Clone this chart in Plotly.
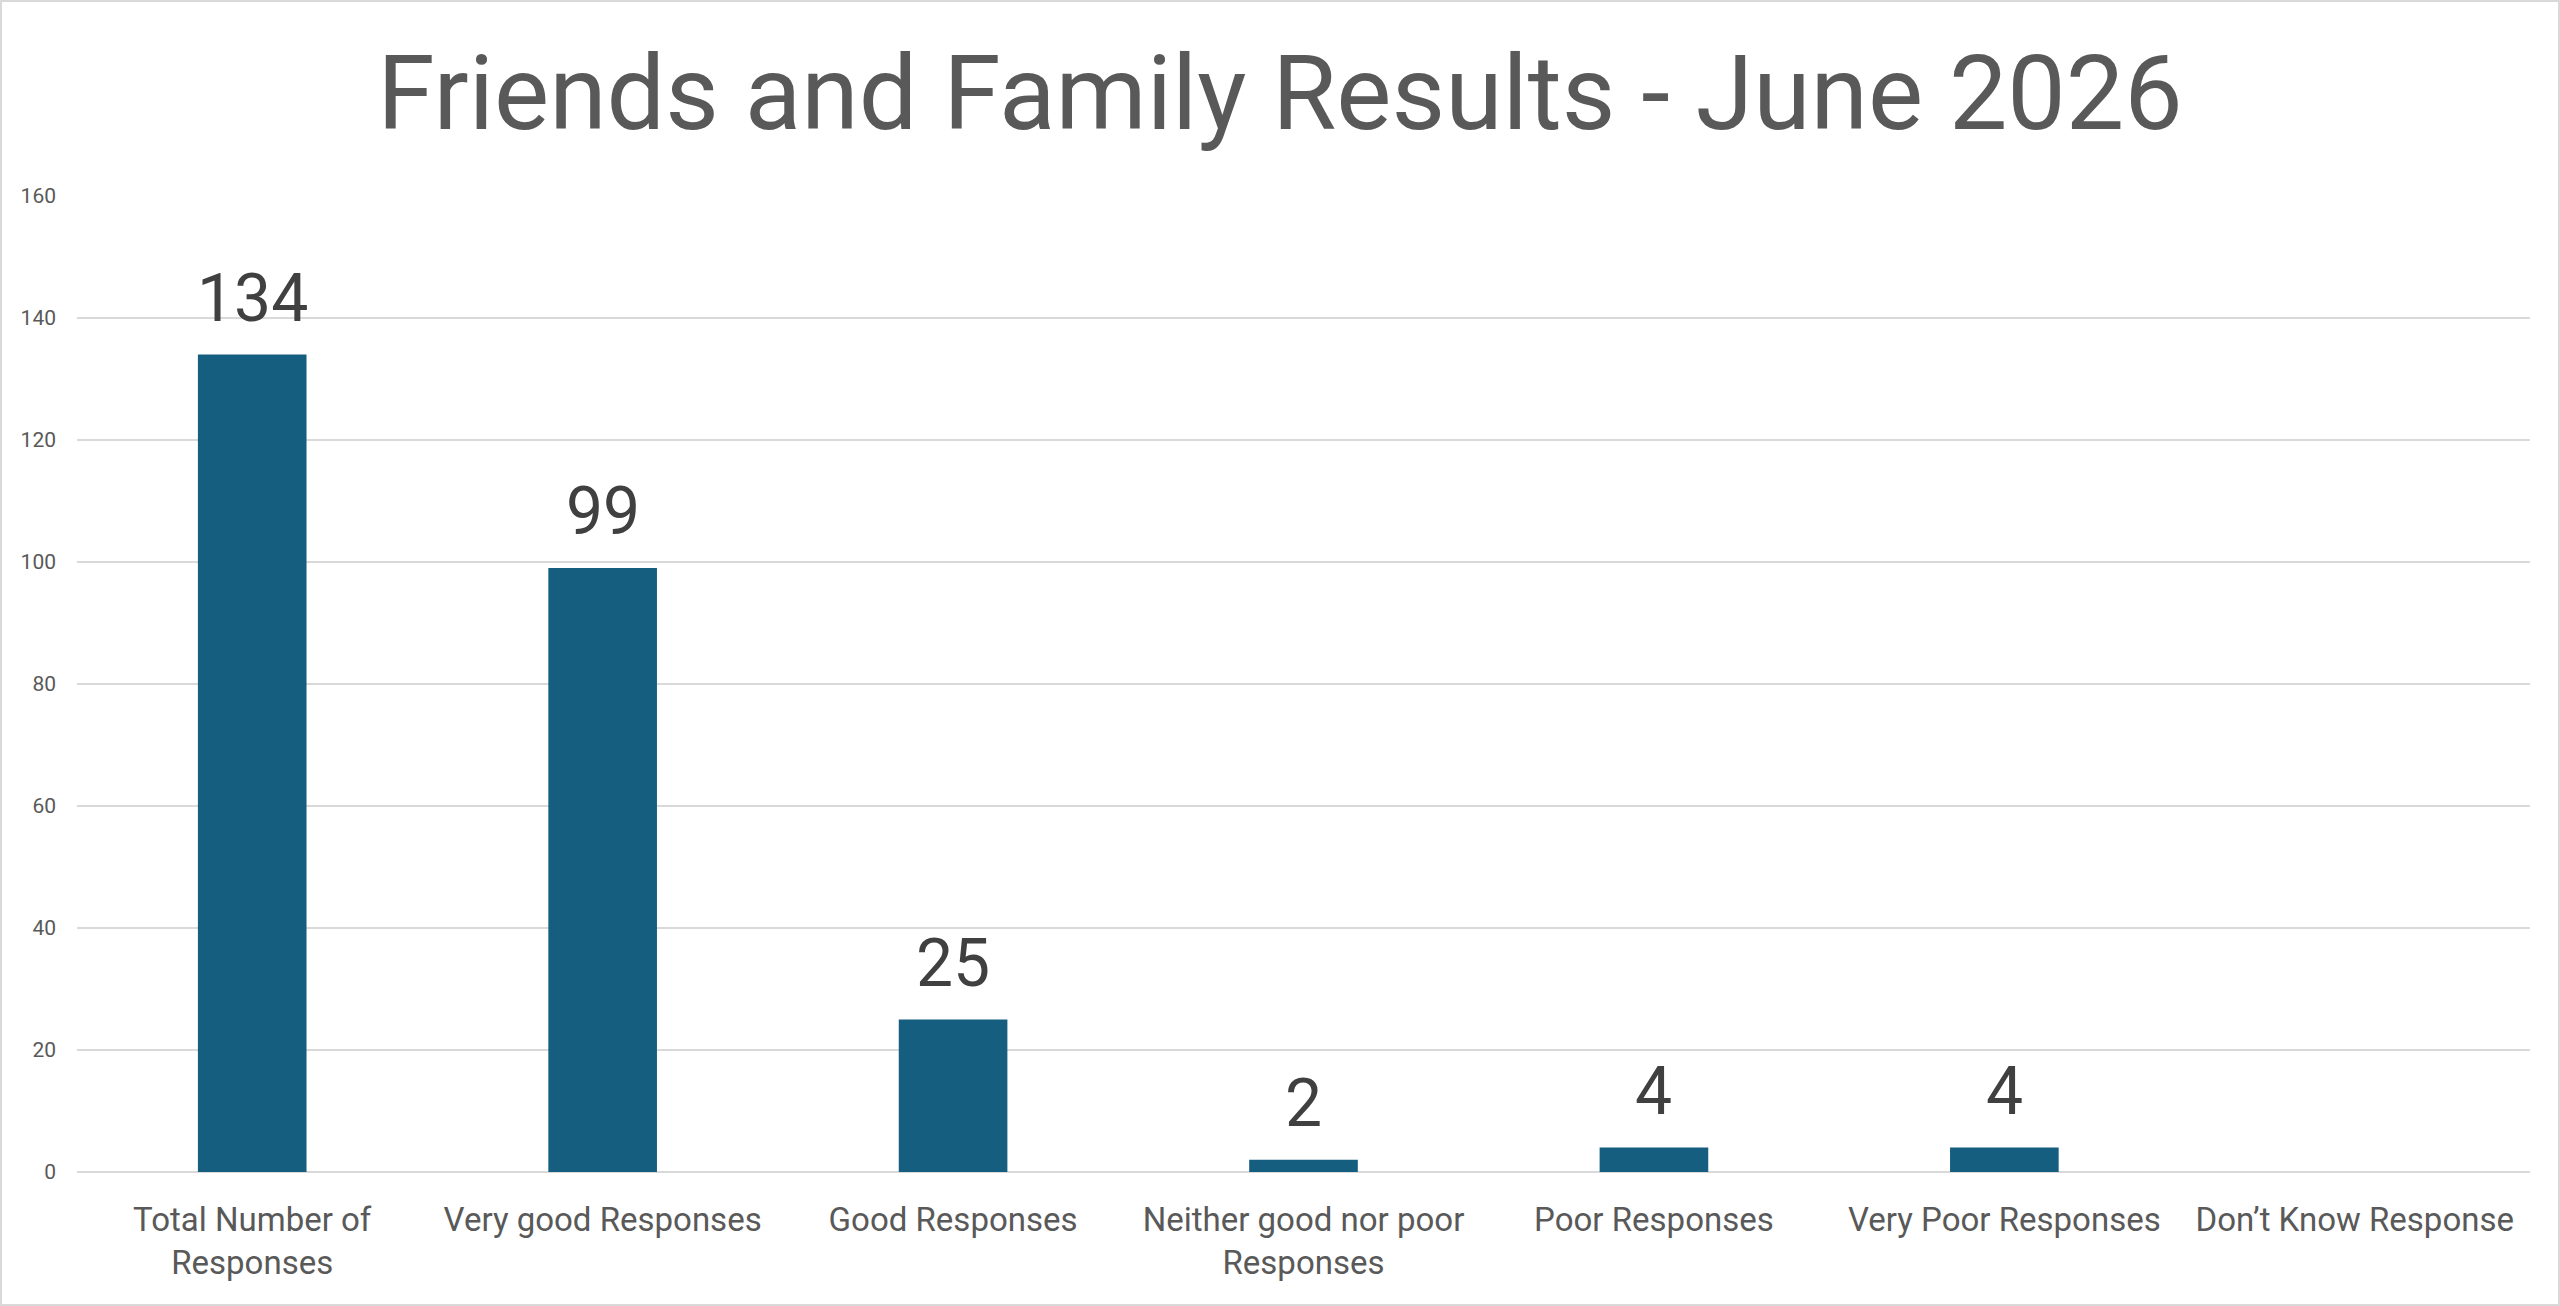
import plotly.graph_objects as go

# Categorías y valores
categorias = [
    "Total Number of<br>Responses",
    "Very good Responses",
    "Good Responses",
    "Neither good nor poor<br>Responses",
    "Poor Responses",
    "Very Poor Responses",
    "Don’t Know Response",
]
valores = [134, 99, 25, 2, 4, 4, None]
y_ticks = [0, 20, 40, 60, 80, 100, 120, 140, 160]

FUENTE = "Roboto, Liberation Sans, sans-serif"
W, H = 2560, 1306
L, R, T, B = 77, 30, 196, 134

fig = go.Figure()
fig.add_trace(go.Bar(
    x=categorias,
    y=valores,
    marker=dict(color="#165E80", line=dict(width=0)),
    hoverinfo="x+y",
))

# etiquetas de datos encima de cada barra
for c, v in zip(categorias, valores):
    if v is None:
        continue
    fig.add_annotation(
        x=c, y=v, text=str(v), showarrow=False,
        yanchor="bottom", yshift=16,
        font=dict(family=FUENTE, size=66, color="#404040"),
    )

# borde gris alrededor del gráfico
pw, ph = W - L - R, H - T - B
fig.add_shape(
    type="rect", xref="paper", yref="paper",
    x0=(1 - L) / pw, x1=(W - 1 - L) / pw,
    y0=(1 - B) / ph, y1=(H - B - 1) / ph,
    line=dict(color="#D9D9D9", width=2),
    layer="below",
)

fig.update_layout(
    width=W, height=H,
    paper_bgcolor="white", plot_bgcolor="white",
    margin=dict(l=L, r=R, t=T, b=B, autoexpand=False),
    title=dict(
        text="Friends and Family Results - June 2026",
        x=0.5, xanchor="center",
        y=1 - 93 / H, yanchor="middle",
        font=dict(family=FUENTE, size=104, color="#595959"),
    ),
    bargap=0.69,
    showlegend=False,
    xaxis=dict(
        showgrid=False, showline=False, ticks="",
        tickangle=0, automargin=False,
        tickfont=dict(family=FUENTE, size=33, color="#595959"),
        ticklabelstandoff=25,
    ),
    yaxis=dict(
        range=[0, 160], tickvals=y_ticks, automargin=False,
        showgrid=True, gridcolor="#D9D9D9", gridwidth=2,
        zeroline=True, zerolinecolor="#D9D9D9", zerolinewidth=2,
        showline=False, ticks="",
        tickfont=dict(family=FUENTE, size=21, color="#595959"),
        ticklabelstandoff=20,
    ),
)

# sin margen del body para que la figura empiece en (0, 0)
fig.write_html(
    "out.html",
    config={"displayModeBar": False},
    post_script="document.body.style.margin='0';",
)
